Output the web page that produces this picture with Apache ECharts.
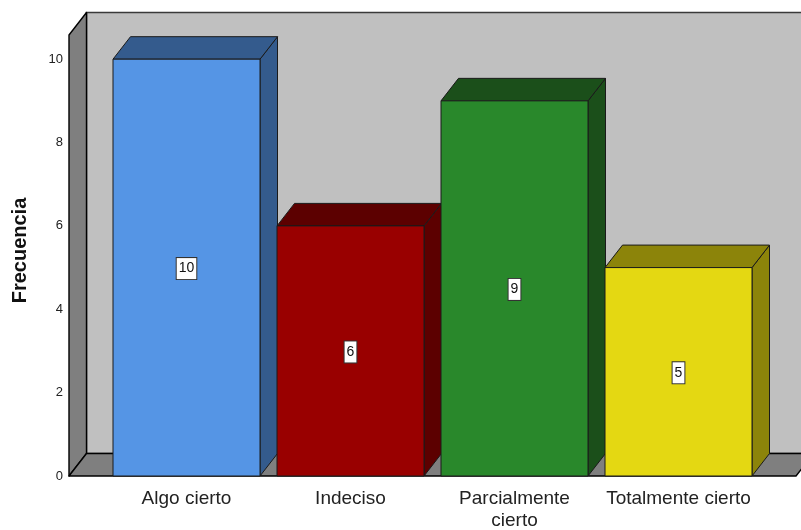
<!DOCTYPE html>
<html>
<head>
<meta charset="utf-8">
<script src="https://cdn.jsdelivr.net/npm/echarts@6/dist/echarts.min.js"></script>
<style>
  html, body { margin: 0; padding: 0; background: #ffffff; }
  #chart { width: 801px; height: 530px; }
</style>
</head>
<body>
<div id="chart"></div>
<script>
// Response categories and their frequencies
const categories = ['Algo cierto', 'Indeciso', 'Parcialmente\ncierto', 'Totalmente cierto'];
const frequencies = [10, 6, 9, 5];
const yTicks = [0, 2, 4, 6, 8, 10];

// Face colours for each bar (front face / shaded top and side faces)
const frontColors = ['#5595e5', '#990000', '#29882b', '#e4d812'];
const shadeColors = ['#345b8d', '#5c0000', '#1b4f1a', '#8c840a'];

// Oblique depth offset of the pseudo-3D projection
const DX = 17.5, DY = -22.5;
const FONT = '"Liberation Sans", Arial, sans-serif';

const chart = echarts.init(document.getElementById('chart'), null, { renderer: 'canvas' });

// Back wall, side wall and floor of the 3D box
function renderFrame(params, api) {
  const cs = params.coordSys;
  const y0 = api.coord([0, 0])[1];
  const yTop = cs.y;
  const band = api.size([1, 0])[0];
  const pad = band * 35.5 / 164;
  const left = cs.x - pad;
  const right = cs.x + cs.width + pad;
  return {
    type: 'group',
    children: [
      {
        type: 'polygon',
        shape: { points: [[left + DX, yTop + DY], [right + DX, yTop + DY], [right + DX, y0 + DY], [left + DX, y0 + DY]] },
        style: { fill: '#c0c0c0', stroke: '#3a3a3a', lineWidth: 1.6 }
      },
      {
        type: 'polygon',
        shape: { points: [[left, yTop], [left + DX, yTop + DY], [left + DX, y0 + DY], [left, y0]] },
        style: { fill: '#7f7f7f', stroke: '#000', lineWidth: 1.4, lineJoin: 'round' }
      },
      {
        type: 'polygon',
        shape: { points: [[left, y0], [left + DX, y0 + DY], [right + DX, y0 + DY], [right, y0]] },
        style: { fill: '#7f7f7f', stroke: '#000', lineWidth: 1.4, lineJoin: 'round' }
      }
    ]
  };
}

// One prism per category: shaded side and top, flat front face, value tag
function renderBar(params, api) {
  const idx = api.value(0);
  const val = api.value(1);
  const top = api.coord([idx, val]);
  const base = api.coord([idx, 0]);
  const mid = api.coord([idx, val / 2]);
  const w = api.size([1, 0])[0] * 147 / 164;
  const x0 = top[0] - w / 2, x1 = top[0] + w / 2;
  const yT = top[1], yB = base[1];
  const edge = { stroke: '#1a1a1a', lineWidth: 1, lineJoin: 'round' };
  return {
    type: 'group',
    children: [
      {
        type: 'polygon',
        shape: { points: [[x1, yT], [x1 + DX, yT + DY], [x1 + DX, yB + DY], [x1, yB]] },
        style: Object.assign({ fill: shadeColors[idx] }, edge)
      },
      {
        type: 'polygon',
        shape: { points: [[x0, yT], [x0 + DX, yT + DY], [x1 + DX, yT + DY], [x1, yT]] },
        style: Object.assign({ fill: shadeColors[idx] }, edge)
      },
      {
        type: 'rect',
        shape: { x: x0, y: yT, width: w, height: yB - yT },
        style: Object.assign({ fill: frontColors[idx] }, edge)
      },
      {
        type: 'text',
        x: mid[0],
        y: mid[1] + 1,
        style: {
          text: String(val),
          font: '14px ' + FONT,
          fill: '#111',
          align: 'center',
          verticalAlign: 'middle',
          backgroundColor: '#ffffff',
          borderColor: '#333333',
          borderWidth: 1,
          padding: [4, 2, 3, 2]
        }
      }
    ]
  };
}

chart.setOption({
  animation: false,
  backgroundColor: '#ffffff',
  grid: { left: 104.5, right: 40.5, top: 35, bottom: 54, containLabel: false, outerBoundsMode: 'none' },
  xAxis: {
    type: 'category',
    data: categories,
    axisLine: { show: false },
    axisTick: { show: false },
    splitLine: { show: false },
    axisLabel: {
      interval: 0,
      margin: 12,
      fontSize: 19,
      lineHeight: 22,
      color: '#222',
      fontFamily: FONT
    }
  },
  yAxis: {
    type: 'value',
    min: 0,
    max: 10.58,
    interval: 2,
    name: 'Frecuencia',
    nameLocation: 'middle',
    nameGap: 74,
    nameRotate: 90,
    nameTextStyle: { fontSize: 20, fontWeight: 'bold', color: '#111', fontFamily: FONT, padding: [0, 0, 0, 10] },
    axisLine: { show: false },
    axisTick: { show: false },
    splitLine: { show: false },
    axisLabel: {
      margin: 41.5,
      fontSize: 13,
      color: '#222',
      fontFamily: FONT,
      formatter: v => (yTicks.indexOf(v) >= 0 ? String(v) : '')
    }
  },
  series: [
    {
      type: 'custom',
      z: 1,
      silent: true,
      renderItem: renderFrame,
      data: [[0, 0]]
    },
    {
      type: 'custom',
      z: 2,
      renderItem: renderBar,
      encode: { x: 0, y: 1 },
      data: frequencies.map((v, i) => [i, v])
    }
  ]
});
</script>
</body>
</html>
